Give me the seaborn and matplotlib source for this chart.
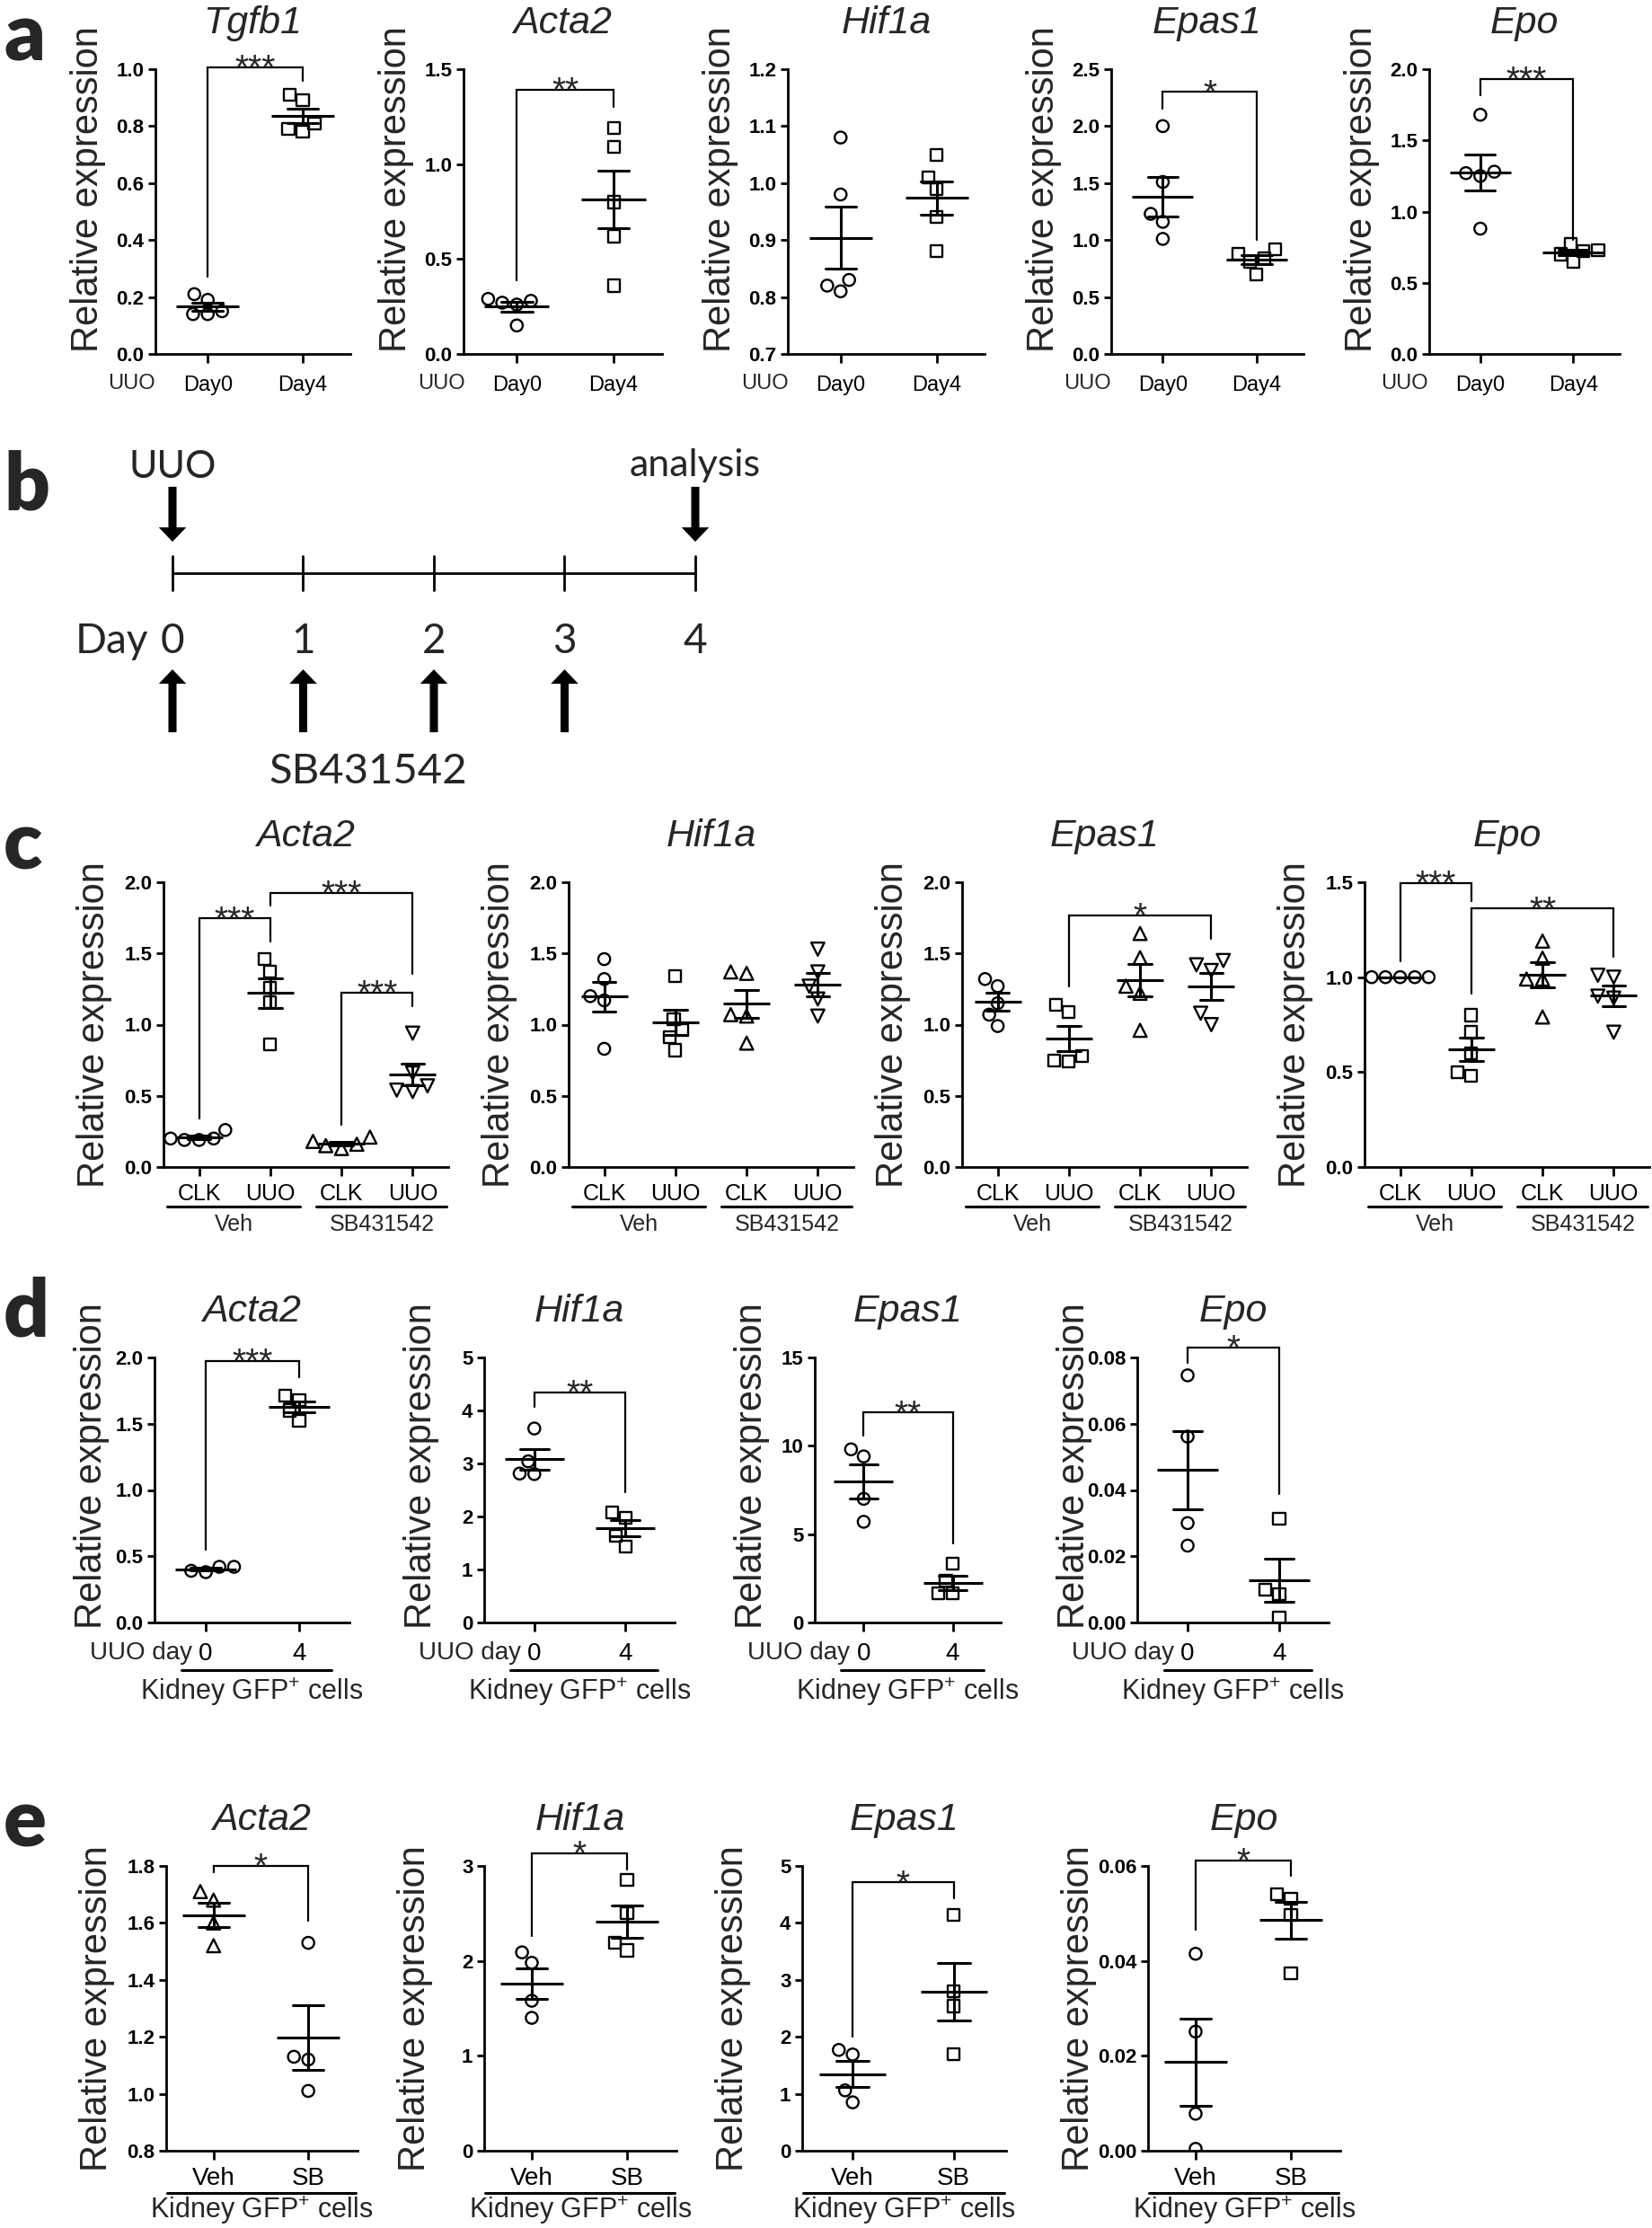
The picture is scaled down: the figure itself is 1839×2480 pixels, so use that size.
import numpy as np
import pandas as pd
import matplotlib
matplotlib.use("Agg")
import matplotlib.pyplot as plt
import matplotlib.transforms as mtrans
import seaborn as sns
from matplotlib.ticker import FixedLocator, FormatStrFormatter

W, H, DPI = 1840, 2480, 100

# ---------------- values ----------------
# a: whole kidney, UUO day 0 vs day 4
A_GENES = ["Tgfb1", "Acta2", "Hif1a", "Epas1", "Epo"]
A_LABELS = ["Day0", "Day4"]
A_TGFB1 = [[0.14, 0.14, 0.15, 0.21, 0.19], [0.91, 0.89, 0.81, 0.79, 0.78]]
A_ACTA2 = [[0.28, 0.26, 0.27, 0.29, 0.15], [1.19, 1.09, 0.80, 0.62, 0.36]]
A_HIF1A = [[1.08, 0.98, 0.83, 0.81, 0.82], [1.05, 1.01, 0.99, 0.94, 0.88]]
A_EPAS1 = [[2.00, 1.51, 1.23, 1.16, 1.01], [0.92, 0.88, 0.84, 0.81, 0.70]]
A_EPO = [[1.68, 1.27, 1.25, 1.28, 0.88], [0.77, 0.73, 0.70, 0.65, 0.72]]
A_TICKS = [[0, 0.2, 0.4, 0.6, 0.8, 1.0], [0, 0.5, 1.0, 1.5],
           [0.7, 0.8, 0.9, 1.0, 1.1, 1.2], [0, 0.5, 1.0, 1.5, 2.0, 2.5],
           [0, 0.5, 1.0, 1.5, 2.0]]
# bracket: (group i, group j, bar height, left leg end, right leg end, stars)
A_BRACKETS = [[(0, 1, 1.007, 0.27, 0.96, "***")],
              [(0, 1, 1.39, 0.386, 1.30, "**")],
              [],
              [(0, 1, 2.30, 2.15, 1.00, "*")],
              [(0, 1, 1.93, 1.815, 0.80, "***")]]

# b: timeline
DAYS = [0, 1, 2, 3, 4]
SB_DAYS = [0, 1, 2, 3]

# c: CLK / UUO kidneys, vehicle or SB431542
C_GENES = ["Acta2", "Hif1a", "Epas1", "Epo"]
C_LABELS = ["CLK", "UUO", "CLK", "UUO"]
C_GROUPS = ["Veh", "SB431542"]
C_ACTA2 = [[0.26, 0.20, 0.19, 0.19, 0.20], [1.46, 1.37, 1.26, 1.16, 0.86],
           [0.21, 0.16, 0.15, 0.13, 0.18], [0.94, 0.66, 0.57, 0.54, 0.53]]
C_HIF1A = [[1.46, 1.32, 1.20, 1.17, 0.83], [1.34, 1.04, 0.96, 0.91, 0.82],
           [1.37, 1.36, 1.07, 1.06, 0.87], [1.53, 1.37, 1.27, 1.18, 1.06]]
C_EPAS1 = [[1.32, 1.27, 1.15, 1.07, 0.99], [1.14, 1.09, 0.78, 0.75, 0.74],
           [1.64, 1.47, 1.27, 1.22, 0.96], [1.42, 1.38, 1.45, 1.08, 1.00]]
C_EPO = [[1.00, 1.00, 1.00, 1.00, 1.00], [0.80, 0.71, 0.60, 0.50, 0.48],
         [1.19, 1.10, 0.99, 0.99, 0.79], [1.01, 1.00, 0.90, 0.89, 0.71]]
C_TICKS = [[0, 0.5, 1.0, 1.5, 2.0]] * 3 + [[0, 0.5, 1.0, 1.5]]
C_BRACKETS = [[(0, 1, 1.745, 0.341, 1.583, "***"), (1, 3, 1.926, 1.836, 1.358, "***"),
               (2, 3, 1.225, 0.299, 1.131, "***")],
              [],
              [(1, 3, 1.766, 1.267, 1.604, "*")],
              [(0, 1, 1.495, 1.085, 1.40, "***"), (1, 3, 1.361, 0.911, 1.108, "**")]]

# d: kidney GFP+ cells, UUO day 0 vs 4
D_GENES = ["Acta2", "Hif1a", "Epas1", "Epo"]
D_LABELS = ["0", "4"]
D_ACTA2 = [[0.42, 0.39, 0.38, 0.42], [1.71, 1.68, 1.60, 1.52]]
D_HIF1A = [[3.66, 3.04, 2.81, 2.80], [2.08, 1.97, 1.63, 1.43]]
D_EPAS1 = [[9.8, 9.4, 7.0, 5.7], [3.35, 2.35, 1.65, 1.65]]
D_EPO = [[0.0746, 0.0561, 0.0300, 0.0232], [0.0314, 0.0099, 0.0086, 0.0014]]
D_TICKS = [[0, 0.5, 1.0, 1.5, 2.0], [0, 1, 2, 3, 4, 5], [0, 5, 10, 15],
           [0, 0.02, 0.04, 0.06, 0.08]]
D_BRACKETS = [[(0, 1, 1.973, 0.549, 1.85, "***")], [(0, 1, 4.34, 4.06, 2.45, "**")],
              [(0, 1, 11.88, 10.56, 4.46, "**")], [(0, 1, 0.0829, 0.0784, 0.0387, "*")]]

# e: kidney GFP+ cells, vehicle vs SB
E_GENES = ["Acta2", "Hif1a", "Epas1", "Epo"]
E_LABELS = ["Veh", "SB"]
E_ACTA2 = [[1.71, 1.68, 1.60, 1.52], [1.53, 1.13, 1.12, 1.01]]
E_HIF1A = [[2.09, 1.98, 1.58, 1.40], [2.85, 2.50, 2.19, 2.11]]
E_EPAS1 = [[1.77, 1.69, 1.06, 0.85], [4.14, 2.80, 2.54, 1.69]]
E_EPO = [[0.0415, 0.0251, 0.0078, 0.0004], [0.0541, 0.0531, 0.0497, 0.0374]]
E_TICKS = [[0.8, 1.0, 1.2, 1.4, 1.6, 1.8], [0, 1, 2, 3], [0, 1, 2, 3, 4, 5],
           [0, 0.02, 0.04, 0.06]]
E_BRACKETS = [[(0, 1, 1.80, 1.779, 1.607, "*")], [(0, 1, 3.13, 2.26, 2.96, "*")],
              [(0, 1, 4.71, 2.01, 4.43, "*")], [(0, 1, 0.0611, 0.0465, 0.0579, "*")]]

# ---------------- style ----------------
sns.set_theme(style="ticks")
plt.rcParams["font.family"] = ["Liberation Sans", "DejaVu Sans"]
plt.rcParams["mathtext.fontset"] = "custom"
plt.rcParams["mathtext.rm"] = "Liberation Sans"
plt.rcParams["mathtext.it"] = "Liberation Sans:italic"
CAL = ["Lato", "DejaVu Sans"]

fig = plt.figure(figsize=(W / DPI, H / DPI), dpi=DPI)
fig.patch.set_facecolor("white")


def add_ax(left, top, width, bottom):
    return fig.add_axes([left / W, 1 - bottom / H, width / W, (bottom - top) / H])


def shifted(trans, dx=0, dy=0):
    return mtrans.offset_copy(trans, fig=fig, x=dx, y=dy, units="dots")


def dot_plot(ax, groups, markers, cat_px):
    names = [f"g{i}" for i in range(len(groups))]
    df = pd.DataFrame({"grp": np.repeat(names, [len(g) for g in groups]),
                       "val": np.concatenate(groups)})
    for name, mk in zip(names, markers):
        n0 = len(ax.collections)
        sns.swarmplot(data=df[df.grp == name], x="grp", y="val", order=names,
                      marker=mk, size=10.5 if mk in "^v" else 9.5, color="black",
                      linewidth=1.7, ax=ax)
        for pc in ax.collections[n0:]:
            pc.set_edgecolor("black")
            pc.set_facecolor("none")
    sns.pointplot(data=df, x="grp", y="val", order=names, errorbar="se",
                  capsize=0.32, color="black", marker="_",
                  markersize=0.66 * cat_px * 72 / DPI, markeredgewidth=2.2,
                  linestyle="none", err_kws={"linewidth": 2.2}, ax=ax)


def style_axis(ax, ticks, fmt, xlim, labels, label_size, xpad):
    ax.set_xlim(*xlim)
    ax.set_ylim(ticks[0], ticks[-1])
    ax.yaxis.set_major_locator(FixedLocator(ticks))
    ax.yaxis.set_major_formatter(FormatStrFormatter(fmt))
    ax.set_xticks(range(len(labels)))
    ax.set_xticklabels(labels)
    ax.set_xlabel("")
    ax.set_ylabel("")
    sns.despine(ax=ax)
    for s in ("left", "bottom"):
        ax.spines[s].set_linewidth(2)
        ax.spines[s].set_color("black")
    ax.tick_params(axis="y", length=6, width=2, labelsize=16, pad=3, colors="black")
    ax.tick_params(axis="x", length=7, width=2, labelsize=label_size, pad=xpad, colors="black")
    plt.setp(ax.get_yticklabels(), fontweight="bold")


def brackets(ax, specs):
    for i, j, ybar, yi, yj, stars in specs:
        ax.plot([i, i, j, j], [yi, ybar, ybar, yj], color="black", lw=1.6,
                clip_on=False, solid_joinstyle="miter")
        ax.annotate(stars, xy=((i + j) / 2, ybar), xytext=(0, -9),
                    textcoords="offset points", ha="center", va="baseline",
                    fontsize=28, annotation_clip=False)


def gene_title(ax, name):
    ax.set_title(name, fontsize=31, style="italic", pad=29)


def ylabel(ax, dx, yfrac):
    ax.text(0, yfrac, "Relative expression", rotation=90, ha="center", va="center",
            fontsize=30, transform=shifted(ax.transAxes, dx=dx))


def panel_letter(letter, x_px, base_px):
    fig.text(x_px / W, 1 - base_px / H, letter, fontsize=64, fontweight="heavy",
             family=CAL, va="baseline", ha="left")


def fmt_for(ticks):
    if max(ticks) <= 0.1:
        return "%.2f"
    if all(float(t).is_integer() for t in ticks):
        return "%d"
    return "%.1f"


# ---------------- panel a ----------------
A_DATA = [A_TGFB1, A_ACTA2, A_HIF1A, A_EPAS1, A_EPO]
A_LEFT = [173, 516, 877, 1237, 1591]
A_WIDTH = [217, 221, 219, 214, 212]
for k, gene in enumerate(A_GENES):
    ax = add_ax(A_LEFT[k], 77, A_WIDTH[k], 394)
    ax.set_ylim(A_TICKS[k][0], A_TICKS[k][-1])
    dot_plot(ax, A_DATA[k], ["o", "s"], A_WIDTH[k] / 2.05)
    style_axis(ax, A_TICKS[k], fmt_for(A_TICKS[k]), (-0.55, 1.5), A_LABELS, 17, 10)
    brackets(ax, A_BRACKETS[k])
    gene_title(ax, gene)
    ylabel(ax, -75, 0.58)
    ax.text(0, 0, "UUO", ha="right", va="center", fontsize=17,
            transform=shifted(ax.get_xaxis_transform(), dx=-58, dy=-33))
panel_letter("a", 4, 68)

# ---------------- panel b ----------------
axb = fig.add_axes([0, 1 - 900 / H, 1, 440 / H])
axb.set_xlim(-192 / 145.5, (W - 192) / 145.5)
axb.set_ylim(0, 1)
axb.axis("off")
axb.plot([DAYS[0], DAYS[-1]], [0.595, 0.595], color="black", lw=2)
for d in DAYS:
    axb.plot([d, d], [0.552, 0.639], color="black", lw=2)
    axb.text(d, 0.393, str(d), ha="center", va="baseline", fontsize=33, family=CAL)
axb.text(DAYS[0], 0.393, "Day", ha="right", va="baseline", fontsize=33, family=CAL,
         transform=shifted(axb.transData, dx=-27))
arrow = dict(arrowstyle="simple,head_width=2.2,head_length=1.15,tail_width=0.65",
             mutation_scale=10, color="black", lw=0, shrinkA=0, shrinkB=0)
for d in (DAYS[0], DAYS[-1]):
    axb.annotate("", xy=(d, 0.675), xytext=(d, 0.814), arrowprops=arrow)
for d in SB_DAYS:
    axb.annotate("", xy=(d, 0.352), xytext=(d, 0.193), arrowprops=arrow)
axb.text(DAYS[0], 0.836, "UUO", ha="center", va="baseline", fontsize=31, family=CAL)
axb.text(DAYS[-1], 0.841, "analysis", ha="center", va="baseline", fontsize=31, family=CAL)
axb.text(np.mean(SB_DAYS[1:3]), 0.064, "SB431542", ha="center", va="baseline",
         fontsize=34, family=CAL)
panel_letter("b", 4, 567)

# ---------------- panel c ----------------
C_DATA = [C_ACTA2, C_HIF1A, C_EPAS1, C_EPO]
C_LEFT = [182, 633, 1071, 1519]
C_SPAN = [(-0.45, 1.42), (1.65, 3.48)]
for k, gene in enumerate(C_GENES):
    ax = add_ax(C_LEFT[k], 982, 317, 1299)
    ax.set_ylim(C_TICKS[k][0], C_TICKS[k][-1])
    dot_plot(ax, C_DATA[k], ["o", "s", "^", "v"], 317 / 4)
    style_axis(ax, C_TICKS[k], "%.1f", (-0.5, 3.5), C_LABELS, 18, 6)
    brackets(ax, C_BRACKETS[k])
    gene_title(ax, gene)
    ylabel(ax, -77, 0.5)
    for (x0, x1), grp in zip(C_SPAN, C_GROUPS):
        ax.plot([x0, x1], [0, 0], color="black", lw=2.2, clip_on=False,
                transform=shifted(ax.get_xaxis_transform(), dy=-44))
        ax.text((x0 + x1) / 2, 0, grp, ha="center", va="center", fontsize=18,
                transform=shifted(ax.get_xaxis_transform(), dy=-64))
panel_letter("c", 4, 967)

# ---------------- panel d ----------------
D_DATA = [D_ACTA2, D_HIF1A, D_EPAS1, D_EPO]
D_LEFT = [172, 539, 907, 1266]
D_WIDTH = [217, 212, 207, 213]
for k, gene in enumerate(D_GENES):
    ax = add_ax(D_LEFT[k], 1511, D_WIDTH[k], 1806)
    ax.set_ylim(D_TICKS[k][0], D_TICKS[k][-1])
    dot_plot(ax, D_DATA[k], ["o", "s"], D_WIDTH[k] / 2.09)
    style_axis(ax, D_TICKS[k], fmt_for(D_TICKS[k]), (-0.55, 1.54), D_LABELS, 20, 9)
    brackets(ax, D_BRACKETS[k])
    gene_title(ax, gene)
    ylabel(ax, -70, 0.59)
    ax.text(0, 0, "UUO day", ha="right", va="center", fontsize=20,
            transform=shifted(ax.get_xaxis_transform(), dx=-15, dy=-34))
    ax.plot([-0.26, 1.35], [0, 0], color="black", lw=2.2, clip_on=False,
            transform=shifted(ax.get_xaxis_transform(), dy=-53))
    ax.text(0.5, 0, "Kidney GFP$^{+}$ cells", ha="center", va="center", fontsize=22,
            transform=shifted(ax.transAxes, dy=-77))
panel_letter("d", 4, 1488)

# ---------------- panel e ----------------
E_DATA = [E_ACTA2, E_HIF1A, E_EPAS1, E_EPO]
E_MARKERS = [["^", "o"], ["o", "s"], ["o", "s"], ["o", "s"]]
E_LEFT = [185, 539, 893, 1278]
E_WIDTH = [213, 214, 227, 214]
for k, gene in enumerate(E_GENES):
    ax = add_ax(E_LEFT[k], 2077, E_WIDTH[k], 2394)
    ax.set_ylim(E_TICKS[k][0], E_TICKS[k][-1])
    dot_plot(ax, E_DATA[k], E_MARKERS[k], E_WIDTH[k] / 2.02)
    style_axis(ax, E_TICKS[k], fmt_for(E_TICKS[k]), (-0.5, 1.52), E_LABELS, 20, 6)
    brackets(ax, E_BRACKETS[k])
    gene_title(ax, gene)
    ylabel(ax, -77, 0.5)
    ax.plot([-0.49, 1.5], [0, 0], color="black", lw=2.2, clip_on=False,
            transform=shifted(ax.get_xaxis_transform(), dy=-47))
    ax.text(0.5, 0, "Kidney GFP$^{+}$ cells", ha="center", va="center", fontsize=22,
            transform=shifted(ax.transAxes, dy=-66))
panel_letter("e", 4, 2055)

fig.savefig("out.png", dpi=DPI, facecolor="white")
